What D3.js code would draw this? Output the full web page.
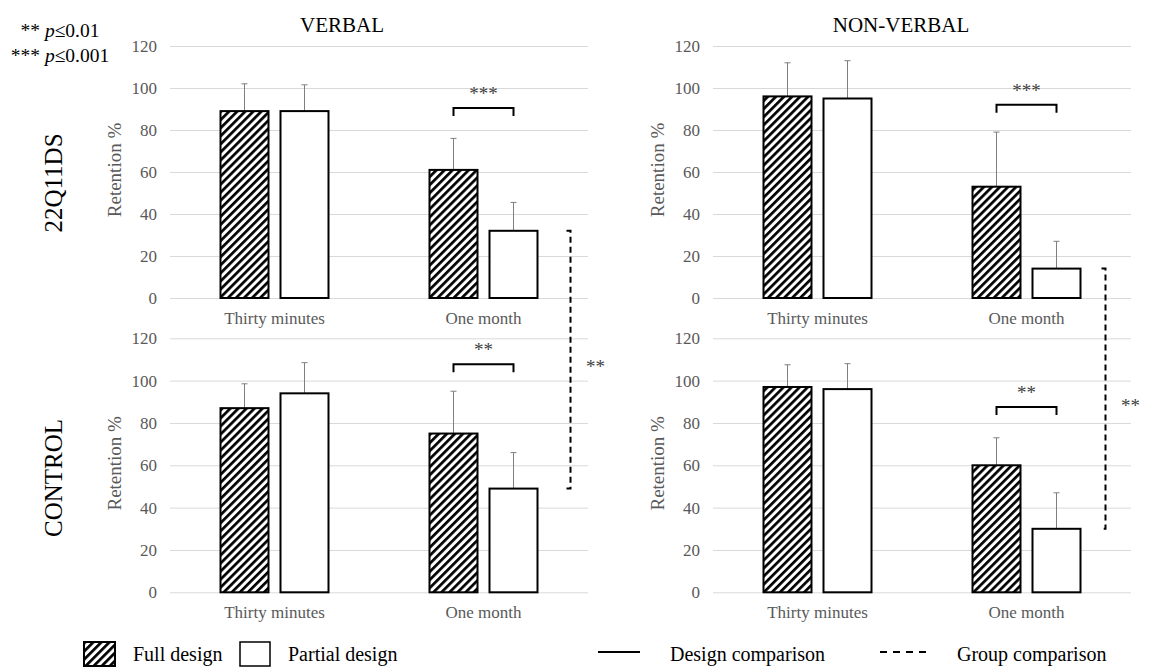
<!DOCTYPE html>
<html>
<head>
<meta charset="utf-8">
<script src="https://cdn.jsdelivr.net/npm/d3@7"></script>
<style>
  html, body { margin: 0; padding: 0; background: #fff; }
  svg { display: block; }
  svg text { font-family: "Liberation Serif", "Times New Roman", serif !important; }
</style>
</head>
<body>
<svg id="chart" width="1157" height="669"></svg>
<script>
// ---- data ----
const categories = ["Thirty minutes", "One month"];
const designs = ["Full design", "Partial design"];
const tasks = ["VERBAL", "NON-VERBAL"];
const groups = ["22Q11DS", "CONTROL"];
const yTicks = [0, 20, 40, 60, 80, 100, 120];

// mean retention % per [thirty minutes, one month]
const fullVerbal22q = [89, 61];
const partialVerbal22q = [89, 32];
const fullNonverbal22q = [96, 53];
const partialNonverbal22q = [95, 14];
const fullVerbalCtrl = [87, 75];
const partialVerbalCtrl = [94, 49];
const fullNonverbalCtrl = [97, 60];
const partialNonverbalCtrl = [96, 30];

// standard deviations (upper error bars)
const sdFullVerbal22q = [13, 15];
const sdPartialVerbal22q = [12.5, 13.5];
const sdFullNonverbal22q = [16, 26];
const sdPartialNonverbal22q = [18, 13];
const sdFullVerbalCtrl = [11.5, 20];
const sdPartialVerbalCtrl = [14.5, 17];
const sdFullNonverbalCtrl = [10.5, 13];
const sdPartialNonverbalCtrl = [12, 17];

// design comparison at one month: bracket level and label, per panel
const designSig = ["***", "***", "**", "**"];
const designBracketLevel = [90.5, 92, 107.7, 87.5];
// group comparison (22Q11DS vs CONTROL, partial design, one month)
const groupSig = ["**", "**"];

// ---- layout ----
const svg = d3.select("#chart");
const panelX = [[170, 588], [713, 1131]];
const panelY = [[298, 46], [592.3, 338.3]];
const dashOffset = [33, 25];
const inkGrey = "#595959";

const defs = svg.append("defs");
const pat = defs.append("pattern")
  .attr("id", "hatch")
  .attr("patternUnits", "userSpaceOnUse")
  .attr("width", 5.7).attr("height", 5.7)
  .attr("patternTransform", "rotate(45)");
pat.append("rect").attr("width", 5.7).attr("height", 5.7).attr("fill", "#fff");
pat.append("rect").attr("width", 2.7).attr("height", 5.7).attr("fill", "#000");

const panelData = [
  { row: 0, col: 0, full: fullVerbal22q, partial: partialVerbal22q, sdF: sdFullVerbal22q, sdP: sdPartialVerbal22q },
  { row: 0, col: 1, full: fullNonverbal22q, partial: partialNonverbal22q, sdF: sdFullNonverbal22q, sdP: sdPartialNonverbal22q },
  { row: 1, col: 0, full: fullVerbalCtrl, partial: partialVerbalCtrl, sdF: sdFullVerbalCtrl, sdP: sdPartialVerbalCtrl },
  { row: 1, col: 1, full: fullNonverbalCtrl, partial: partialNonverbalCtrl, sdF: sdFullNonverbalCtrl, sdP: sdPartialNonverbalCtrl }
];

const scales = [];

panelData.forEach((p, i) => {
  const x = d3.scaleBand().domain(categories).range(panelX[p.col]).padding(0);
  const y = d3.scaleLinear().domain([0, 120]).range(panelY[p.row]);
  const inner = d3.scaleBand().domain(designs)
    .range([x.bandwidth() / 2 - 54, x.bandwidth() / 2 + 54]).paddingInner(0.2);
  scales.push({ x, y, inner });

  const g = svg.append("g");

  // gridlines + tick labels
  const yAxis = d3.axisLeft(y).tickValues(yTicks).tickSize(-(panelX[p.col][1] - panelX[p.col][0])).tickPadding(13);
  const ax = g.append("g").attr("transform", `translate(${panelX[p.col][0]},0)`).call(yAxis);
  ax.select(".domain").remove();
  ax.selectAll(".tick line").attr("stroke", "#d9d9d9").attr("stroke-width", 1);
  ax.selectAll(".tick text").attr("fill", inkGrey).attr("font-size", 17);

  // category labels
  const xAxis = d3.axisBottom(x).tickSize(0).tickPadding(14);
  const axb = g.append("g").attr("transform", `translate(0,${y(0)})`).call(xAxis);
  axb.select(".domain").remove();
  axb.selectAll(".tick text").attr("fill", inkGrey).attr("font-size", 17);

  // y axis title
  g.append("text")
    .attr("transform", `translate(${panelX[p.col][0] - 49},${(y(0) + y(120)) / 2 - 2}) rotate(-90)`)
    .attr("text-anchor", "middle")
    .attr("fill", inkGrey).attr("font-size", 19)
    .text("Retention %");

  const rows = categories.map((c, k) => [
    { c, d: designs[0], v: p.full[k], sd: p.sdF[k] },
    { c, d: designs[1], v: p.partial[k], sd: p.sdP[k] }
  ]).flat();

  // error bars (upper only)
  const eb = g.append("g").attr("stroke", "#7f7f7f").attr("stroke-width", 1);
  rows.forEach(r => {
    const cx = x(r.c) + inner(r.d) + inner.bandwidth() / 2;
    eb.append("line").attr("x1", cx).attr("x2", cx).attr("y1", y(r.v)).attr("y2", y(r.v + r.sd));
    eb.append("line").attr("x1", cx - 3).attr("x2", cx + 3).attr("y1", y(r.v + r.sd)).attr("y2", y(r.v + r.sd));
  });

  // bars
  g.append("g").selectAll("rect").data(rows).join("rect")
    .attr("x", r => x(r.c) + inner(r.d))
    .attr("width", inner.bandwidth())
    .attr("y", r => y(r.v))
    .attr("height", r => y(0) - y(r.v))
    .attr("fill", r => r.d === designs[0] ? "url(#hatch)" : "#fff")
    .attr("stroke", "#000").attr("stroke-width", 2);

  // design comparison bracket at one month
  const c1 = categories[1];
  const bx1 = x(c1) + inner(designs[0]) + inner.bandwidth() / 2;
  const bx2 = x(c1) + inner(designs[1]) + inner.bandwidth() / 2;
  const by = y(designBracketLevel[i]);
  g.append("path")
    .attr("d", `M${bx1},${by + 8}V${by}H${bx2}V${by + 8}`)
    .attr("fill", "none").attr("stroke", "#000").attr("stroke-width", 2);
  g.append("text")
    .attr("x", (bx1 + bx2) / 2).attr("y", by - 8)
    .attr("text-anchor", "middle").attr("fill", "#404040").attr("font-size", 19)
    .text(designSig[i]);
});

// group comparison dashed brackets (partial design, one month, 22Q11DS vs CONTROL)
[0, 1].forEach(col => {
  const top = scales[col], bot = scales[col + 2];
  const pTop = [partialVerbal22q, partialNonverbal22q][col][1];
  const pBot = [partialVerbalCtrl, partialNonverbalCtrl][col][1];
  const dx = top.x(categories[1]) + top.inner(designs[1]) + top.inner.bandwidth() + dashOffset[col];
  const y1 = top.y(pTop), y2 = bot.y(pBot);
  svg.append("path")
    .attr("d", `M${dx - 4},${y1}H${dx}V${y2}H${dx - 4}`)
    .attr("fill", "none").attr("stroke", "#000").attr("stroke-width", 2)
    .attr("stroke-dasharray", "6,4");
  svg.append("text")
    .attr("x", dx + 25).attr("y", (y1 + y2) / 2 + 13)
    .attr("text-anchor", "middle").attr("fill", "#404040").attr("font-size", 19)
    .text(groupSig[col]);
});

// column titles
const titleX = [342, 901];
tasks.forEach((t, i) => {
  svg.append("text").attr("x", titleX[i]).attr("y", 32)
    .attr("text-anchor", "middle").attr("font-size", 21).attr("fill", "#000").text(t);
});

// row titles
const rowY = [183, 478];
groups.forEach((t, i) => {
  svg.append("text")
    .attr("transform", `translate(62,${rowY[i]}) rotate(-90)`)
    .attr("text-anchor", "middle").attr("font-size", 25).attr("fill", "#000").text(t);
});

// significance key
const sigKey = [["** ", "p", "≤0.01"], ["*** ", "p", "≤0.001"]];
sigKey.forEach((parts, i) => {
  const t = svg.append("text").attr("x", 60).attr("y", 37 + i * 25)
    .attr("text-anchor", "middle").attr("font-size", 19.5).attr("fill", "#000");
  t.append("tspan").text(parts[0]);
  t.append("tspan").attr("font-style", "italic").text(parts[1]);
  t.append("tspan").text(parts[2]);
});

// legend
const lg = svg.append("g").attr("font-size", 20).attr("fill", "#000");
lg.append("rect").attr("x", 84).attr("y", 642).attr("width", 31).attr("height", 24)
  .attr("fill", "url(#hatch)").attr("stroke", "#000").attr("stroke-width", 2);
lg.append("text").attr("x", 133).attr("y", 661).text(designs[0]);
lg.append("rect").attr("x", 240).attr("y", 642).attr("width", 30).attr("height", 24)
  .attr("fill", "#fff").attr("stroke", "#000").attr("stroke-width", 1.5);
lg.append("text").attr("x", 288).attr("y", 661).text(designs[1]);
lg.append("line").attr("x1", 598).attr("x2", 640).attr("y1", 652).attr("y2", 652)
  .attr("stroke", "#000").attr("stroke-width", 2);
lg.append("text").attr("x", 670).attr("y", 661).text("Design comparison");
lg.append("line").attr("x1", 880).attr("x2", 926).attr("y1", 652).attr("y2", 652)
  .attr("stroke", "#000").attr("stroke-width", 2).attr("stroke-dasharray", "7,6");
lg.append("text").attr("x", 957).attr("y", 661).text("Group comparison");
</script>
</body>
</html>
